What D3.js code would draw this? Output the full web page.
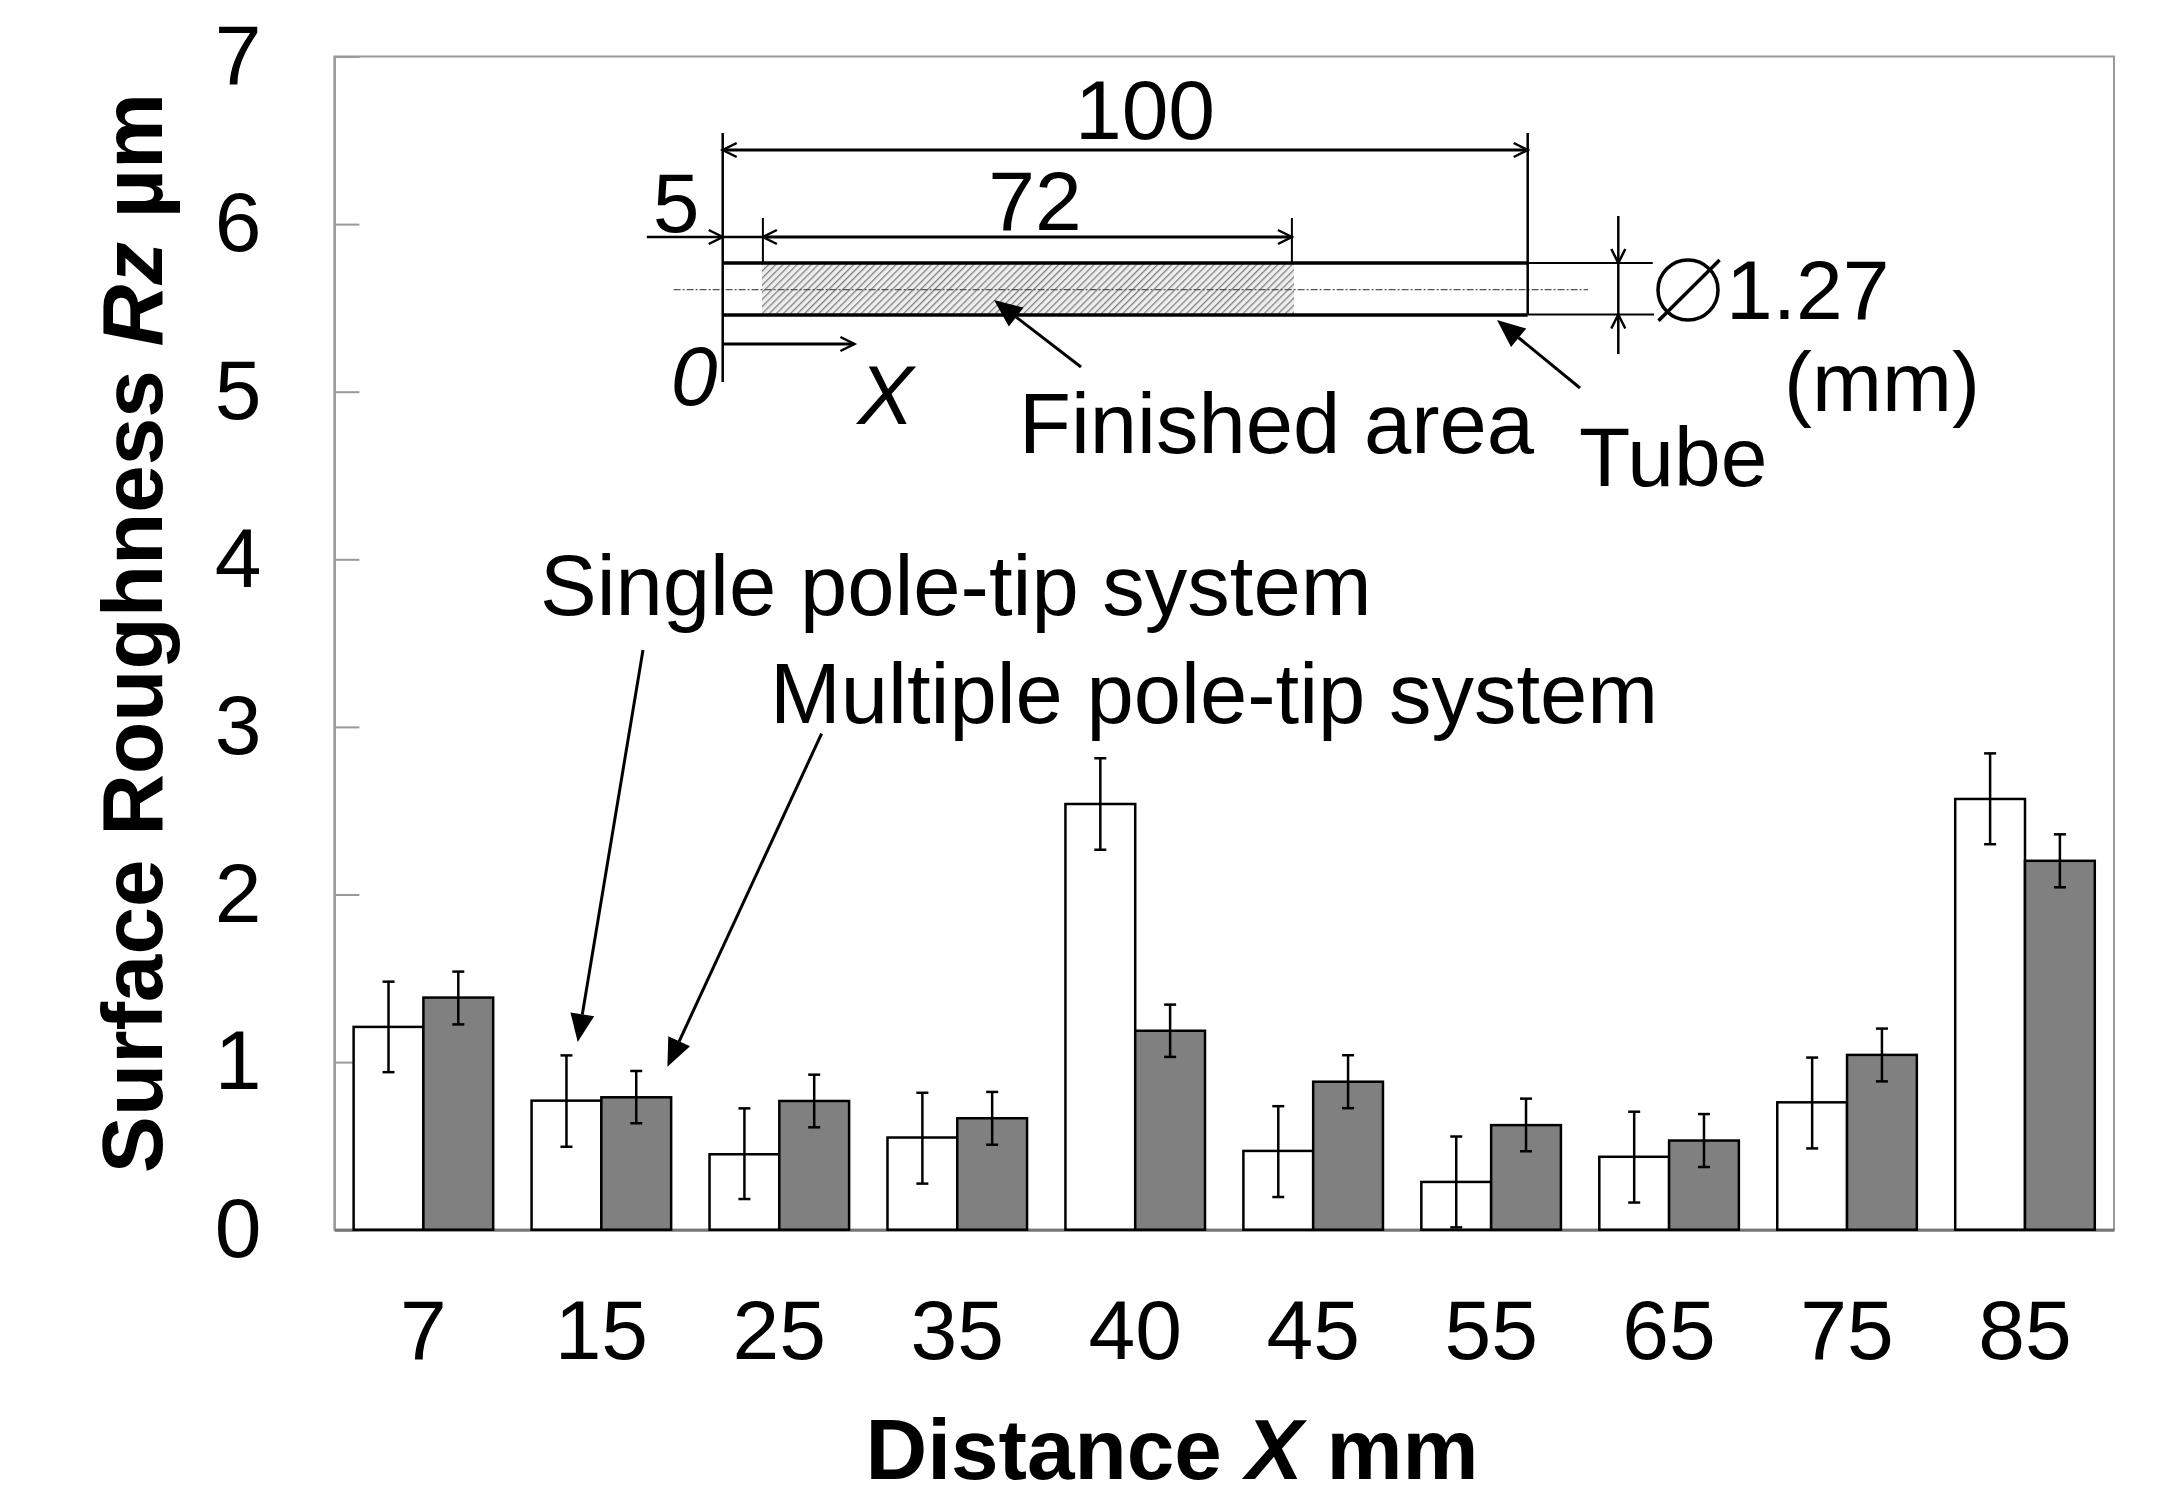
<!DOCTYPE html>
<html>
<head>
<meta charset="utf-8">
<script src="https://cdn.jsdelivr.net/npm/d3@7"></script>
<style>
    html, body { margin: 0; padding: 0; background: #fff; }
    svg { display: block; }
    text { font-family: "Liberation Sans", Arial, sans-serif; fill: #000; }
</style>
</head>
<body>
<svg id="chart" width="2158" height="1491"></svg>
<script>
// values
const distances = ["7", "15", "25", "35", "40", "45", "55", "65", "75", "85"];
const seriesNames = ["single", "multiple"];
const singleValues = [1.21, 0.77, 0.45, 0.55, 2.54, 0.47, 0.285, 0.435, 0.76, 2.57];
const singleLow = [0.94, 0.495, 0.183, 0.275, 2.267, 0.195, 0.014, 0.162, 0.485, 2.30];
const singleHigh = [1.48, 1.04, 0.724, 0.817, 2.813, 0.737, 0.556, 0.704, 1.027, 2.842];
const multipleValues = [1.385, 0.79, 0.768, 0.665, 1.187, 0.883, 0.624, 0.532, 1.043, 2.201];
const multipleLow = [1.225, 0.635, 0.611, 0.507, 1.031, 0.725, 0.468, 0.374, 0.885, 2.043];
const multipleHigh = [1.54, 0.947, 0.925, 0.822, 1.343, 1.041, 0.782, 0.69, 1.2, 2.359];
const yTicks = [0, 1, 2, 3, 4, 5, 6, 7];

const FONT = 84;
const NOTE_FONT = 85;
const TITLE_FONT = 85.5;
const plotLeft = 334.4, plotRight = 2114, plotTop = 56.5, plotBottom = 1229.7;

const svg = d3.select("#chart");

const x0 = d3.scaleBand().domain(distances).range([plotLeft, plotRight])
    .paddingInner(0.2157).paddingOuter(0.108);
const x1 = d3.scaleBand().domain(seriesNames).range([0, x0.bandwidth()]);
const y = d3.scaleLinear().domain([0, 7]).range([plotBottom, plotTop]);

// plot frame
svg.append("rect")
    .attr("x", plotLeft).attr("y", plotTop)
    .attr("width", plotRight - plotLeft).attr("height", plotBottom - plotTop)
    .attr("fill", "none").attr("stroke", "#999").attr("stroke-width", 2);

// axes
const yAxis = svg.append("g")
    .attr("transform", `translate(${plotLeft},0)`)
    .call(d3.axisLeft(y).tickValues(yTicks).tickFormat(d3.format("d")).tickSize(-25).tickPadding(73));
yAxis.select(".domain").attr("stroke", "#999").attr("stroke-width", 2);
yAxis.selectAll(".tick line").attr("stroke", "#999").attr("stroke-width", 2);
yAxis.selectAll("text")
    .style("font-size", FONT + "px")
    .style("font-family", '"Liberation Sans", Arial, sans-serif')
    .attr("dy", "0.32em")
    .attr("fill", "#000");

const xAxis = svg.append("g")
    .attr("transform", `translate(0,${plotBottom})`)
    .call(d3.axisBottom(x0).tickSize(0).tickPadding(70));
xAxis.select(".domain").attr("stroke", "#777").attr("stroke-width", 3);
xAxis.selectAll("text")
    .style("font-size", FONT + "px")
    .style("font-family", '"Liberation Sans", Arial, sans-serif')
    .attr("fill", "#000");

// bars
function drawBars(name, values, fill) {
    svg.append("g").selectAll("rect").data(values).enter().append("rect")
        .attr("x", (d, i) => x0(distances[i]) + x1(name))
        .attr("y", d => y(d))
        .attr("width", x1.bandwidth())
        .attr("height", d => plotBottom - y(d))
        .attr("fill", fill)
        .attr("stroke", "#000")
        .attr("stroke-width", 2.5);
}

// error bars
function drawErrors(name, low, high) {
    const g = svg.append("g").attr("stroke", "#000").attr("stroke-width", 2.5);
    const cx = (d, i) => x0(distances[i]) + x1(name) + x1.bandwidth() / 2;

    g.selectAll(".stem").data(low).enter().append("line")
        .attr("class", "stem")
        .attr("x1", cx).attr("x2", cx)
        .attr("y1", d => y(d))
        .attr("y2", (d, i) => y(high[i]));
    g.selectAll(".capLow").data(low).enter().append("line")
        .attr("class", "capLow")
        .attr("x1", (d, i) => cx(d, i) - 6).attr("x2", (d, i) => cx(d, i) + 6)
        .attr("y1", d => y(d)).attr("y2", d => y(d));
    g.selectAll(".capHigh").data(high).enter().append("line")
        .attr("class", "capHigh")
        .attr("x1", (d, i) => cx(d, i) - 6).attr("x2", (d, i) => cx(d, i) + 6)
        .attr("y1", d => y(d)).attr("y2", d => y(d));
}

drawBars("single", singleValues, "#fff");
drawBars("multiple", multipleValues, "#808080");
drawErrors("single", singleLow, singleHigh);
drawErrors("multiple", multipleLow, multipleHigh);

// axis titles
const xTitle = svg.append("text")
    .attr("x", 1172).attr("y", 1479)
    .attr("text-anchor", "middle")
    .style("font-size", TITLE_FONT + "px").style("font-weight", "bold");
xTitle.append("tspan").text("Distance ");
xTitle.append("tspan").style("font-style", "italic").text("X");
xTitle.append("tspan").text(" mm");

const yTitle = svg.append("text")
    .attr("transform", "translate(162,633) rotate(-90)")
    .attr("text-anchor", "middle")
    .style("font-size", TITLE_FONT + "px").style("font-weight", "bold");
yTitle.append("tspan").text("Surface Roughness ");
yTitle.append("tspan").style("font-style", "italic").text("Rz");
yTitle.append("tspan").text(" µm");

// helpers for the annotation drawing
function label(txt, px, py, anchor, italic, size) {
    return svg.append("text")
        .attr("x", px).attr("y", py)
        .attr("text-anchor", anchor || "start")
        .style("font-size", (size || FONT) + "px")
        .style("font-style", italic ? "italic" : "normal")
        .text(txt);
}

function seg(ax, ay, bx, by, w, color) {
    return svg.append("line")
        .attr("x1", ax).attr("y1", ay).attr("x2", bx).attr("y2", by)
        .attr("stroke", color || "#000").attr("stroke-width", w || 2);
}

// open dimension arrow head, tip at (px,py), pointing along angle in degrees
function chevron(px, py, angle) {
    const a = angle * Math.PI / 180, len = 14, half = 7;
    const ux = Math.cos(a), uy = Math.sin(a);
    const p = s => [px - ux * len - uy * s * half, py - uy * len + ux * s * half];
    svg.append("path")
        .attr("d", d3.line()([p(1), [px, py], p(-1)]))
        .attr("fill", "none").attr("stroke", "#000").attr("stroke-width", 2.5);
}

// leader line ending in a solid triangle at (tipX,tipY)
function leader(tailX, tailY, tipX, tipY) {
    const a = Math.atan2(tipY - tailY, tipX - tailX), len = 28, half = 12;
    const ux = Math.cos(a), uy = Math.sin(a);
    const bx = tipX - ux * len, by = tipY - uy * len;
    seg(tailX, tailY, bx, by, 3);
    svg.append("path")
        .attr("d", d3.line()([[tipX, tipY], [bx - uy * half, by + ux * half], [bx + uy * half, by - ux * half]]) + "Z")
        .attr("fill", "#000");
}

// hatched finished area
const pattern = svg.append("defs").append("pattern")
    .attr("id", "hatch")
    .attr("patternUnits", "userSpaceOnUse")
    .attr("width", 5).attr("height", 5)
    .attr("patternTransform", "rotate(45)");
pattern.append("rect").attr("width", 5).attr("height", 5).attr("fill", "#eee");
pattern.append("line")
    .attr("x1", 0).attr("y1", 0).attr("x2", 0).attr("y2", 5)
    .attr("stroke", "#808080").attr("stroke-width", 2.6);

svg.append("rect")
    .attr("x", 762).attr("y", 264).attr("width", 532).attr("height", 50)
    .attr("fill", "url(#hatch)");

// tube outline and center line
seg(722.7, 263, 1527.7, 263, 3.5);
seg(722.7, 315, 1527.7, 315, 3.5);
seg(1527.7, 263, 1652.7, 263, 2);
seg(1527.7, 314.5, 1654, 314.5, 2);
seg(673.6, 289.7, 1588, 289.7, 1.2, "#555").attr("stroke-dasharray", "7 2 2 2");

// extension lines
seg(722.7, 133, 722.7, 382, 2.5);
seg(1527.7, 133, 1527.7, 315, 2.5);
seg(762.9, 218, 762.9, 263, 2);
seg(1291.9, 218, 1291.9, 263, 2);

// dimension lines
seg(722.7, 150, 1527.7, 150, 3);
chevron(722.7, 150, 180);
chevron(1527.7, 150, 0);
seg(762.9, 237, 1291.9, 237, 3);
chevron(762.9, 237, 180);
chevron(1291.9, 237, 0);
seg(646.8, 237, 762.9, 237, 2.5);
chevron(722.7, 237, 0);
seg(722.7, 344, 854.4, 344, 3);
chevron(854.4, 344, 0);
seg(1618.3, 216, 1618.3, 354, 2.5);
chevron(1618.3, 263, 90);
chevron(1618.3, 314.5, -90);

// diameter sign
svg.append("ellipse")
    .attr("cx", 1688).attr("cy", 290).attr("rx", 30).attr("ry", 30)
    .attr("fill", "none").attr("stroke", "#000").attr("stroke-width", 3.5);
seg(1658.5, 320.7, 1719.6, 260, 3.5);

// annotation text
label("100", 1145, 139, "middle");
label("72", 1035, 230, "middle");
label("5", 676, 232, "middle");
label("0", 694, 405, "middle", true);
label("X", 885.6, 424, "middle", true);
label("1.27", 1726, 319);
label("(mm)", 1784, 410.7);
label("Finished area", 1019, 452.7, "start", false, NOTE_FONT);
label("Tube", 1579, 485.7);
label("Single pole-tip system", 540, 615, "start", false, NOTE_FONT);
label("Multiple pole-tip system", 770, 722.5, "start", false, NOTE_FONT);

leader(1081, 367, 994, 300);
leader(1580, 388, 1497, 320);
leader(643, 650, 577.7, 1042);
leader(821.6, 733.6, 667.4, 1066.7);
</script>
</body>
</html>
